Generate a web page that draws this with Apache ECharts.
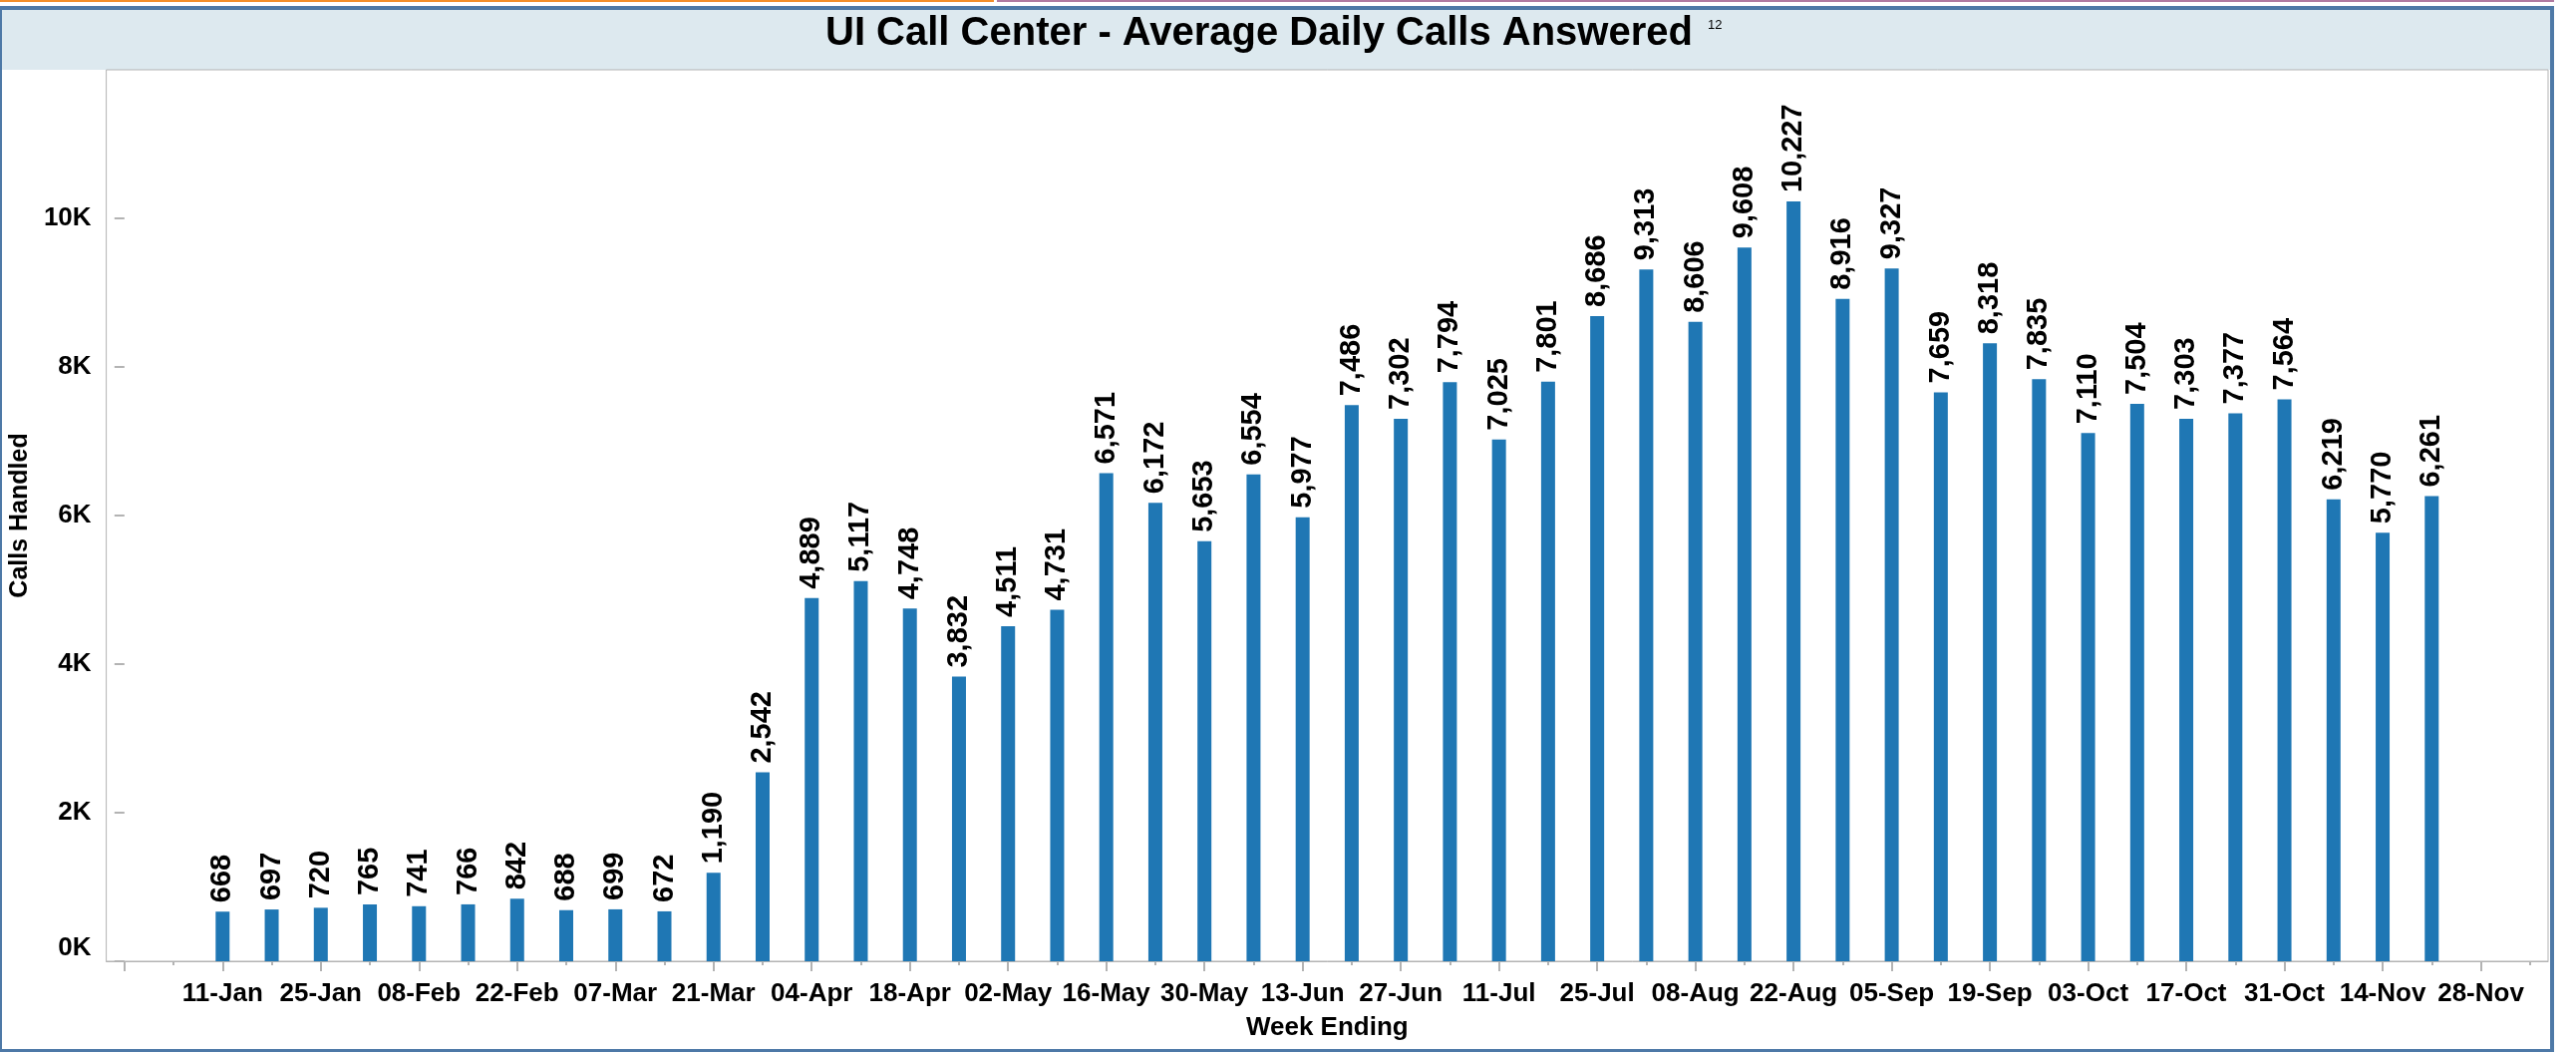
<!DOCTYPE html>
<html>
<head>
<meta charset="utf-8">
<script src="https://cdn.jsdelivr.net/npm/echarts@6/dist/echarts.min.js"></script>
<style>
html,body{margin:0;padding:0;background:#fff;}
#chart{width:2584px;height:1055px;}
</style>
</head>
<body>
<div id="chart"></div>
<script>
// Week-ending dates along the axis (first two and last two weeks have no data)
const weeks = ['28-Dec','04-Jan','11-Jan','18-Jan','25-Jan','01-Feb','08-Feb','15-Feb','22-Feb','29-Feb',
  '07-Mar','14-Mar','21-Mar','28-Mar','04-Apr','11-Apr','18-Apr','25-Apr','02-May','09-May',
  '16-May','23-May','30-May','06-Jun','13-Jun','20-Jun','27-Jun','04-Jul','11-Jul','18-Jul',
  '25-Jul','01-Aug','08-Aug','15-Aug','22-Aug','29-Aug','05-Sep','12-Sep','19-Sep','26-Sep',
  '03-Oct','10-Oct','17-Oct','24-Oct','31-Oct','07-Nov','14-Nov','21-Nov','28-Nov','05-Dec'];

// Average daily calls answered per week
const calls = [null, null,
  668, 697, 720, 765, 741, 766, 842, 688, 699, 672,
  1190, 2542, 4889, 5117, 4748, 3832, 4511, 4731, 6571, 6172,
  5653, 6554, 5977, 7486, 7302, 7794, 7025, 7801, 8686, 9313,
  8606, 9608, 10227, 8916, 9327, 7659, 8318, 7835, 7110, 7504,
  7303, 7377, 7564, 6219, 5770, 6261,
  null, null];

// Labelled weeks (every other week from 11-Jan to 28-Nov)
const labelledWeeks = ['11-Jan','25-Jan','08-Feb','22-Feb','07-Mar','21-Mar','04-Apr','18-Apr','02-May',
  '16-May','30-May','13-Jun','27-Jun','11-Jul','25-Jul','08-Aug','22-Aug','05-Sep','19-Sep','03-Oct',
  '17-Oct','31-Oct','14-Nov','28-Nov'];

// Y axis tick values
const yTicks = [0, 2000, 4000, 6000, 8000, 10000];
const yMax = 12000;

const titleText = 'UI Call Center - Average Daily Calls Answered';
const titleNote = '12';
const yName = 'Calls Handled';
const xName = 'Week Ending';

const FONT = '"Liberation Sans", Arial, sans-serif';
const GRAY = '#b3b3b3';

// week positions on the axis (index into weeks)
const allIdx = weeks.map(function (w, i) { return i; });
const majorIdx = allIdx.filter(function (i) { return i % 2 === 0; });
const labelIdx = labelledWeeks.map(function (w) { return weeks.indexOf(w); });
const seriesData = weeks.map(function (w, i) { return [i, calls[i]]; });
const xPad = 0.37;

const chart = echarts.init(document.getElementById('chart'), null, {renderer: 'canvas'});

const option = {
  animation: false,
  backgroundColor: '#ffffff',
  textStyle: {fontFamily: FONT},
  graphic: [
    {type: 'rect', z: -10, shape: {x: 0, y: 0, width: 997, height: 2}, style: {fill: '#f28e2b'}},
    {type: 'rect', z: -10, shape: {x: 1000, y: 0, width: 1562, height: 2}, style: {fill: '#b07aa1'}},
    {type: 'rect', z: -10, shape: {x: 0, y: 6, width: 2562, height: 4}, style: {fill: '#4e79a7'}},
    {type: 'rect', z: -10, shape: {x: 0, y: 6, width: 2, height: 1049}, style: {fill: '#4e79a7'}},
    {type: 'rect', z: -10, shape: {x: 2558, y: 6, width: 4, height: 1049}, style: {fill: '#4e79a7'}},
    {type: 'rect', z: -10, shape: {x: 0, y: 1052, width: 2562, height: 3}, style: {fill: '#4e79a7'}},
    {type: 'rect', z: -10, shape: {x: 2, y: 10, width: 2556, height: 60}, style: {fill: '#dde9ef'}},
    {type: 'text', z: 10, x: 1713, y: 25, style: {
      text: titleNote, font: '13px ' + FONT, fill: '#000', verticalAlign: 'middle', align: 'left'
    }}
  ],
  title: {
    text: titleText,
    left: 828,
    top: 14,
    padding: 0,
    textStyle: {fontFamily: FONT, fontSize: 40, fontWeight: 'bold', color: '#000'}
  },
  grid: {
    left: 104, right: 28, top: 70, bottom: 91,
    show: true, borderColor: GRAY, borderWidth: 1, backgroundColor: 'transparent',
    containLabel: false
  },
  xAxis: [
    {
      type: 'value',
      min: -xPad,
      max: weeks.length - 1 + xPad,
      position: 'bottom',
      splitLine: {show: false},
      axisLine: {show: true, onZero: false, lineStyle: {color: GRAY, width: 1}},
      axisTick: {show: true, length: 10, customValues: majorIdx, lineStyle: {color: GRAY, width: 2}},
      axisLabel: {
        show: true, margin: 20, customValues: labelIdx,
        fontFamily: FONT, fontSize: 26, fontWeight: 'bold', color: '#000',
        formatter: function (v) { return weeks[Math.round(v)]; }
      },
      name: xName,
      nameLocation: 'middle',
      nameGap: 54,
      nameTextStyle: {fontFamily: FONT, fontSize: 26, fontWeight: 'bold', color: '#000'}
    },
    {
      type: 'value',
      min: -xPad,
      max: weeks.length - 1 + xPad,
      position: 'bottom',
      splitLine: {show: false},
      axisLine: {show: false, onZero: false},
      axisTick: {show: true, length: 4, customValues: allIdx, lineStyle: {color: GRAY, width: 2}},
      axisLabel: {show: false}
    }
  ],
  yAxis: {
    type: 'value',
    min: 0,
    max: yMax,
    interval: 2000,
    splitLine: {show: false},
    axisLine: {show: false},
    axisTick: {show: true, length: 10, customValues: yTicks, lineStyle: {color: GRAY, width: 2}},
    axisLabel: {
      show: true, margin: 15, customValues: yTicks,
      verticalAlignMinLabel: 'bottom',
      fontFamily: FONT, fontSize: 26, fontWeight: 'bold', color: '#000',
      formatter: function (v) { return (v / 1000) + 'K'; }
    },
    name: yName,
    nameLocation: 'middle',
    nameGap: 66,
    nameTextStyle: {fontFamily: FONT, fontSize: 25, fontWeight: 'bold', color: '#000'}
  },
  series: [{
    type: 'bar',
    xAxisIndex: 0,
    data: seriesData,
    barWidth: 14,
    itemStyle: {color: '#1f77b4'},
    label: {
      show: true,
      position: 'top',
      rotate: 90,
      align: 'left',
      verticalAlign: 'middle',
      distance: 9,
      fontFamily: FONT, fontSize: 29, fontWeight: 'bold', color: '#000',
      formatter: function (p) { var v = p.value[1]; return v == null ? '' : Number(v).toLocaleString('en-US'); }
    }
  }]
};

chart.setOption(option);
</script>
</body>
</html>
